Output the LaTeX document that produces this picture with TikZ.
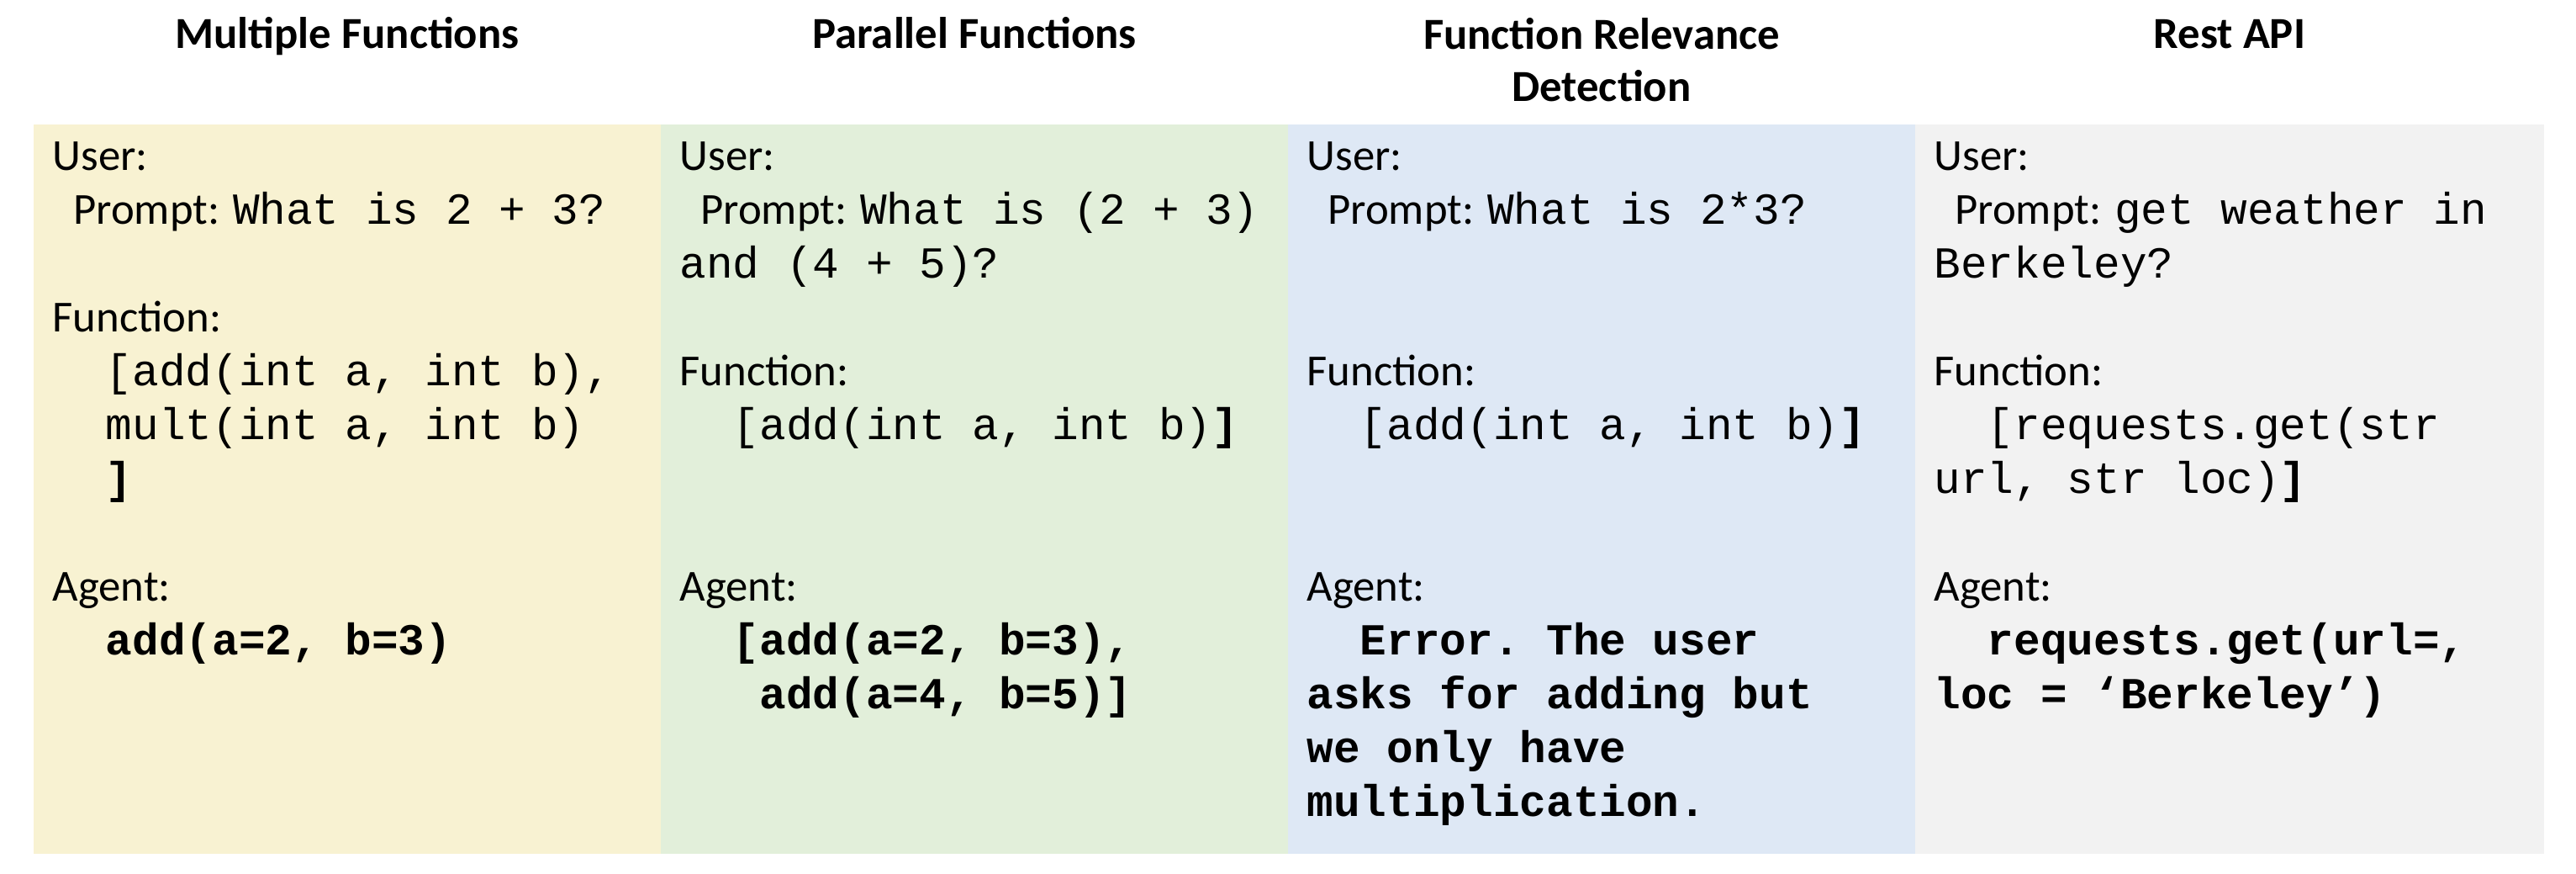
\documentclass[tikz,border=0pt]{standalone}
\usepackage{fontspec}
\setmainfont{Carlito}
\setmonofont{Liberation Mono}
\usetikzlibrary{positioning}

\definecolor{multibg}{HTML}{F8F2D2}
\definecolor{parabg}{HTML}{E2EFDA}
\definecolor{relbg}{HTML}{DEE8F5}
\definecolor{restbg}{HTML}{F2F2F2}

\newcommand{\code}[1]{{\ttfamily #1}}
\newcommand{\ans}[1]{{\ttfamily\bfseries #1}}

\begin{document}
\begin{tikzpicture}[every node/.style={black, inner sep=0pt, font=\fontsize{15}{18.2}\selectfont},
	coltitle/.style={font=\fontsize{15}{17.6}\selectfont\bfseries, align=center, anchor=base},
	colbody/.style={align=left, anchor=north west, execute at begin node={\rule{0pt}{12pt}}}]
	\useasboundingbox (0,0) rectangle (30.64,10.38);
%	panel corners: bottom at 0.23, top at 8.90
	\coordinate (p0) at (0.40, 0.23);
	\coordinate (p1) at (7.86, 8.90);
	\coordinate (p2) at (7.86, 0.23);
	\coordinate (p3) at (15.32, 8.90);
	\coordinate (p4) at (15.32, 0.23);
	\coordinate (p5) at (22.78, 8.90);
	\coordinate (p6) at (22.78, 0.23);
	\coordinate (p7) at (30.26, 8.90);

	\fill[multibg] (p0) rectangle (p1);
	\fill[parabg] (p2) rectangle (p3);
	\fill[relbg] (p4) rectangle (p5);
	\fill[restbg] (p6) rectangle (p7);

%	two-line title sits on its last line
	\node[coltitle] (multiTitle) at (4.13, 9.80) {Multiple Functions};
	\node[coltitle] (paraTitle) at (11.59, 9.80) {Parallel Functions};
	\node[coltitle] (relTitle) at (19.05, 9.18) {Function Relevance\\Detection};
	\node[coltitle] (restTitle) at (26.52, 9.80) {Rest API};

	\node[colbody] (multiBody) at (0.62, 8.70) {User:\\
		\hspace{7pt}Prompt: \code{What is 2 + 3?}\\[\baselineskip]
		Function:\\
		\code{~~[add(int a, int b),}\\
		\code{~~mult(int a, int b)}\\
		\code{~~\textbf{]}}\\[\baselineskip]
		Agent:\\
		\ans{~~add(a=2, b=3)}};

	\node[colbody] (paraBody) at (8.08, 8.70) {User:\\
		\hspace{7pt}Prompt: \code{What is (2 + 3)}\\
		\code{and (4 + 5)?}\\[\baselineskip]
		Function:\\
		\code{~~[add(int a, int b)\textbf{]}}\\[2\baselineskip]
		Agent:\\
		\ans{~~[add(a=2, b=3),}\\
		\ans{~~~add(a=4, b=5)]}};

	\node[colbody] (relBody) at (15.54, 8.70) {User:\\
		\hspace{7pt}Prompt: \code{What is 2*3?}\\[2\baselineskip]
		Function:\\
		\code{~~[add(int a, int b)\textbf{]}}\\[2\baselineskip]
		Agent:\\
		\ans{~~Error. The user}\\
		\ans{asks for adding but}\\
		\ans{we only have}\\
		\ans{multiplication.}};

	\node[colbody] (restBody) at (23.00, 8.70) {User:\\
		\hspace{7pt}Prompt: \code{get weather in}\\
		\code{Berkeley?}\\[\baselineskip]
		Function:\\
		\code{~~[requests.get(str}\\
		\code{url, str loc)\textbf{]}}\\[\baselineskip]
		Agent:\\
		\ans{~~requests.get(url=,}\\
		\ans{loc = ‘Berkeley’)}};
\end{tikzpicture}
\end{document}
